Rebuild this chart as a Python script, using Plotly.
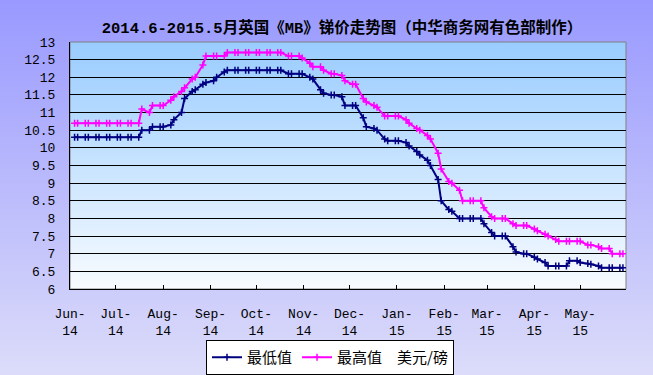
import base64
import plotly.graph_objects as go

# ---------------- data ----------------
dates = [
    "2014-06-04", "2014-06-06", "2014-06-11", "2014-06-13", "2014-06-18", "2014-06-20", "2014-06-25", "2014-06-27",
    "2014-07-02", "2014-07-04", "2014-07-09", "2014-07-11", "2014-07-16", "2014-07-18", "2014-07-23", "2014-07-25", "2014-07-30",
    "2014-08-01", "2014-08-06", "2014-08-08", "2014-08-13", "2014-08-15", "2014-08-20", "2014-08-22", "2014-08-27", "2014-08-29",
    "2014-09-03", "2014-09-05", "2014-09-10", "2014-09-12", "2014-09-17", "2014-09-19", "2014-09-24", "2014-09-26",
    "2014-10-01", "2014-10-03", "2014-10-08", "2014-10-10", "2014-10-15", "2014-10-17", "2014-10-22", "2014-10-24", "2014-10-29", "2014-10-31",
    "2014-11-05", "2014-11-07", "2014-11-12", "2014-11-14", "2014-11-19", "2014-11-21", "2014-11-26", "2014-11-28",
    "2014-12-03", "2014-12-05", "2014-12-10", "2014-12-12", "2014-12-17", "2014-12-19", "2014-12-24", "2014-12-26", "2014-12-31",
    "2015-01-02", "2015-01-07", "2015-01-09", "2015-01-14", "2015-01-16", "2015-01-21", "2015-01-23", "2015-01-28", "2015-01-30",
    "2015-02-04", "2015-02-06", "2015-02-11", "2015-02-13", "2015-02-18", "2015-02-20", "2015-02-25", "2015-02-27",
    "2015-03-04", "2015-03-06", "2015-03-11", "2015-03-13", "2015-03-18", "2015-03-20", "2015-03-25", "2015-03-27",
    "2015-04-01", "2015-04-03", "2015-04-08", "2015-04-10", "2015-04-15", "2015-04-17", "2015-04-22", "2015-04-24", "2015-04-29",
    "2015-05-01", "2015-05-06", "2015-05-08", "2015-05-13", "2015-05-15", "2015-05-20", "2015-05-22", "2015-05-27", "2015-05-29",
]

low_price = [
    10.3, 10.3, 10.3, 10.3, 10.3, 10.3, 10.3, 10.3,
    10.3, 10.3, 10.3, 10.3, 10.3, 10.5, 10.5, 10.6, 10.6,
    10.6, 10.65, 10.8, 11.0, 11.4, 11.6, 11.65, 11.8, 11.85,
    11.9, 12.0, 12.15, 12.2, 12.2, 12.2, 12.2, 12.2,
    12.2, 12.2, 12.2, 12.2, 12.2, 12.2, 12.1, 12.1, 12.1, 12.1,
    12.0, 11.95, 11.65, 11.55, 11.5, 11.5, 11.45, 11.2,
    11.2, 11.2, 10.85, 10.6, 10.55, 10.5, 10.25, 10.2, 10.2,
    10.2, 10.15, 10.05, 9.9, 9.8, 9.65, 9.5, 9.1, 8.5,
    8.25, 8.2, 8.0, 8.0, 8.0, 8.0, 8.0, 7.85,
    7.6, 7.5, 7.5, 7.5, 7.2, 7.05, 7.0, 7.0,
    6.9, 6.85, 6.75, 6.65, 6.65, 6.65, 6.65, 6.8, 6.8,
    6.75, 6.72, 6.7, 6.65, 6.6, 6.6, 6.6, 6.6, 6.6,
]

high_price = [
    10.7, 10.7, 10.7, 10.7, 10.7, 10.7, 10.7, 10.7,
    10.7, 10.7, 10.7, 10.7, 10.7, 11.1, 11.0, 11.2, 11.2,
    11.2, 11.35, 11.45, 11.6, 11.7, 11.95, 12.0, 12.35, 12.6,
    12.6, 12.6, 12.6, 12.7, 12.7, 12.7, 12.7, 12.7,
    12.7, 12.7, 12.7, 12.7, 12.7, 12.7, 12.6, 12.6, 12.6, 12.55,
    12.4, 12.3, 12.3, 12.2, 12.1, 12.1, 12.05, 11.9,
    11.8, 11.8, 11.4, 11.3, 11.2, 11.15, 10.9, 10.9, 10.9,
    10.9, 10.8, 10.7, 10.55, 10.5, 10.35, 10.25, 9.85, 9.4,
    9.05, 9.0, 8.8, 8.5, 8.5, 8.5, 8.5, 8.3,
    8.05, 8.0, 8.0, 8.0, 7.85, 7.8, 7.8, 7.8,
    7.7, 7.65, 7.55, 7.5, 7.4, 7.35, 7.35, 7.35, 7.35,
    7.35, 7.25, 7.25, 7.2, 7.15, 7.15, 7.0, 7.0, 7.0,
]

month_ticks = ["2014-06-01", "2014-07-01", "2014-08-01", "2014-09-01", "2014-10-01", "2014-11-01",
               "2014-12-01", "2015-01-01", "2015-02-01", "2015-03-01", "2015-04-01", "2015-05-01"]
month_labels = ["Jun-<br>14", "Jul-<br>14", "Aug-<br>14", "Sep-<br>14", "Oct-<br>14", "Nov-<br>14",
                "Dec-<br>14", "Jan-<br>15", "Feb-<br>15", "Mar-<br>15", "Apr-<br>15", "May-<br>15"]

y_ticks = [6, 6.5, 7, 7.5, 8, 8.5, 9, 9.5, 10, 10.5, 11, 11.5, 12, 12.5, 13]
y_labels = ["6", "6.5", "7", "7.5", "8", "8.5", "9", "9.5", "10", "10.5", "11", "11.5", "12", "12.5", "13"]

series_names = ["最低值", "最高值\u3000美元/磅"]
title_text = "2014.6-2015.5月英国《MB》锑价走势图（中华商务网有色部制作）"

# ---------------- styling ----------------
W, H = 653, 375
ML, MR, MT, MB = 70, 27, 42, 86
PW, PH = W - ML - MR, H - MT - MB

MONO = "Liberation Mono, Noto Sans CJK SC, monospace"
CJK = "Noto Sans CJK SC, sans-serif"


def gradient_uri(top, bottom):
    svg = (
        '<svg xmlns="http://www.w3.org/2000/svg" width="100" height="100" preserveAspectRatio="none">'
        '<defs><linearGradient id="g" x1="0" y1="0" x2="0" y2="1">'
        f'<stop offset="0" stop-color="{top}"/><stop offset="1" stop-color="{bottom}"/>'
        '</linearGradient></defs><rect width="100" height="100" fill="url(#g)"/></svg>'
    )
    return "data:image/svg+xml;base64," + base64.b64encode(svg.encode()).decode()


fig = go.Figure()

for name, vals, col in [(series_names[0], low_price, "#000080"), (series_names[1], high_price, "#FF00FF")]:
    fig.add_trace(go.Scatter(
        x=dates, y=vals, name=name, mode="lines+markers",
        line=dict(color=col, width=2),
        marker=dict(symbol="cross-thin", size=5, line=dict(color=col, width=1.5), color=col),
        hoverinfo="skip",
    ))

fig.update_layout(
    width=W, height=H,
    margin=dict(l=ML, r=MR, t=MT, b=MB, pad=0, autoexpand=False),
    paper_bgcolor="#B3B3FA",
    plot_bgcolor="rgba(0,0,0,0)",
    showlegend=True,
    title=dict(text="<b>" + title_text + "</b>", x=342 / W, xanchor="center",
               y=1 - 28 / H, yanchor="middle", yref="container",
               font=dict(family=MONO, size=15.5, color="black")),
    legend=dict(orientation="h", x=(330 - ML) / PW, xanchor="center",
                y=-(340 - (MT + PH)) / PH, yanchor="top",
                bgcolor="white", bordercolor="black", borderwidth=1,
                font=dict(family=CJK, size=15, color="black"),
                itemwidth=30, tracegroupgap=0),
    images=[
        dict(source=gradient_uri("#9999FF", "#DCDCFA"), xref="paper", yref="paper",
             x=-ML / PW, y=1 + MT / PH, sizex=W / PW, sizey=H / PH,
             xanchor="left", yanchor="top", sizing="stretch", layer="below"),
        dict(source=gradient_uri("#99CCFF", "#F8FBFF"), xref="paper", yref="paper",
             x=0, y=1, sizex=1, sizey=1,
             xanchor="left", yanchor="top", sizing="stretch", layer="below"),
    ],
    shapes=[
        dict(type="rect", xref="paper", yref="paper", x0=0, x1=1, y0=0, y1=1,
             line=dict(color="#808080", width=1), fillcolor="rgba(0,0,0,0)", layer="below"),
    ],
)

fig.update_xaxes(
    type="date", range=["2014-06-01", "2015-05-31"],
    tickmode="array", tickvals=month_ticks, ticktext=month_labels,
    ticks="inside", ticklen=4, tickwidth=1, tickcolor="black",
    showline=True, linecolor="black", linewidth=1,
    showgrid=False, zeroline=False, automargin=False,
    tickfont=dict(family=MONO, size=13, color="black"),
    ticklabelstandoff=12,
)
fig.update_yaxes(
    range=[6, 13], tickmode="array", tickvals=y_ticks, ticktext=y_labels,
    showline=True, linecolor="black", linewidth=1,
    showgrid=True, gridcolor="black", gridwidth=1,
    zeroline=False, ticks="", automargin=False,
    tickfont=dict(family=MONO, size=13, color="black"),
    ticklabelstandoff=11,
)

fig.write_html("out.html", config={"displayModeBar": False, "staticPlot": True},
               post_script="document.body.style.margin='0';document.body.style.overflow='hidden';")
